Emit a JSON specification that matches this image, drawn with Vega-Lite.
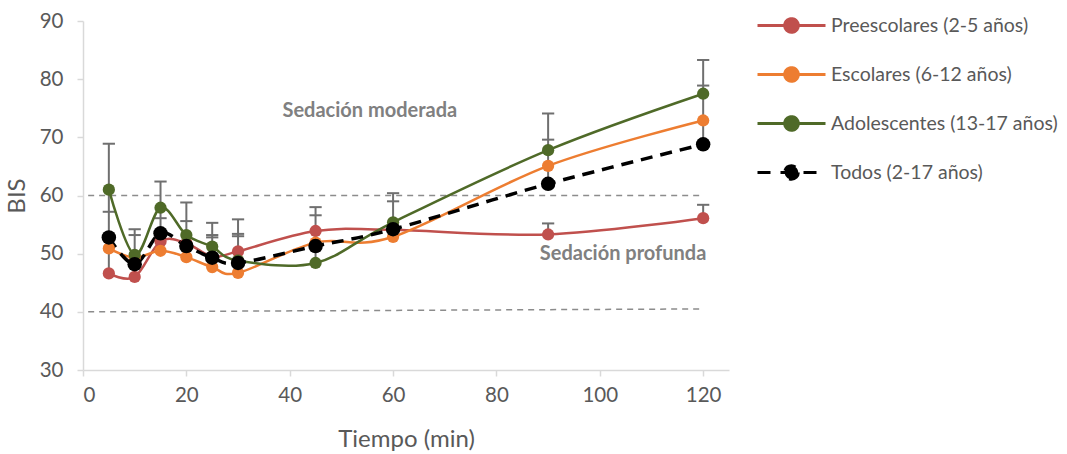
{
  "$schema": "https://vega.github.io/schema/vega-lite/v6.json",
  "width": 646,
  "height": 349,
  "autosize": {"type": "none"},
  "padding": {"left": 83, "top": 21, "right": 338, "bottom": 84},
  "background": "white",
  "config": {
    "view": {"stroke": null},
    "font": "Lato",
    "axis": {"labelFont": "Lato", "titleFont": "Lato", "labelColor": "#595959", "titleColor": "#595959", "labelFontSize": 20.5, "titleFontSize": 24, "titleFontWeight": "normal", "domainColor": "#d9d9d9", "domainWidth": 1.5, "tickColor": "#d9d9d9", "tickWidth": 1.5, "tickSize": 6, "grid": false}
  },
  "datasets": {
    "series": [
      {"grupo": "Preescolares (2-5 años)", "t": 5, "bis": 46.6},
      {"grupo": "Preescolares (2-5 años)", "t": 10, "bis": 46.0},
      {"grupo": "Preescolares (2-5 años)", "t": 15, "bis": 52.1},
      {"grupo": "Preescolares (2-5 años)", "t": 20, "bis": 51.8},
      {"grupo": "Preescolares (2-5 años)", "t": 25, "bis": 49.5},
      {"grupo": "Preescolares (2-5 años)", "t": 30, "bis": 50.4},
      {"grupo": "Preescolares (2-5 años)", "t": 45, "bis": 53.9},
      {"grupo": "Preescolares (2-5 años)", "t": 60, "bis": 54.1},
      {"grupo": "Preescolares (2-5 años)", "t": 90, "bis": 53.3},
      {"grupo": "Preescolares (2-5 años)", "t": 120, "bis": 56.1},
      {"grupo": "Escolares (6-12 años)", "t": 5, "bis": 50.9},
      {"grupo": "Escolares (6-12 años)", "t": 10, "bis": 49.3},
      {"grupo": "Escolares (6-12 años)", "t": 15, "bis": 50.5},
      {"grupo": "Escolares (6-12 años)", "t": 20, "bis": 49.4},
      {"grupo": "Escolares (6-12 años)", "t": 25, "bis": 47.7},
      {"grupo": "Escolares (6-12 años)", "t": 30, "bis": 46.7},
      {"grupo": "Escolares (6-12 años)", "t": 45, "bis": 51.9},
      {"grupo": "Escolares (6-12 años)", "t": 60, "bis": 52.9},
      {"grupo": "Escolares (6-12 años)", "t": 90, "bis": 65.1},
      {"grupo": "Escolares (6-12 años)", "t": 120, "bis": 72.9},
      {"grupo": "Adolescentes (13-17 años)", "t": 5, "bis": 61.0},
      {"grupo": "Adolescentes (13-17 años)", "t": 10, "bis": 49.8},
      {"grupo": "Adolescentes (13-17 años)", "t": 15, "bis": 57.9},
      {"grupo": "Adolescentes (13-17 años)", "t": 20, "bis": 53.2},
      {"grupo": "Adolescentes (13-17 años)", "t": 25, "bis": 51.2},
      {"grupo": "Adolescentes (13-17 años)", "t": 30, "bis": 48.8},
      {"grupo": "Adolescentes (13-17 años)", "t": 45, "bis": 48.4},
      {"grupo": "Adolescentes (13-17 años)", "t": 60, "bis": 55.4},
      {"grupo": "Adolescentes (13-17 años)", "t": 90, "bis": 67.8},
      {"grupo": "Adolescentes (13-17 años)", "t": 120, "bis": 77.5},
      {"grupo": "Todos (2-17 años)", "t": 5, "bis": 52.8},
      {"grupo": "Todos (2-17 años)", "t": 10, "bis": 48.2},
      {"grupo": "Todos (2-17 años)", "t": 15, "bis": 53.5},
      {"grupo": "Todos (2-17 años)", "t": 20, "bis": 51.3},
      {"grupo": "Todos (2-17 años)", "t": 25, "bis": 49.3},
      {"grupo": "Todos (2-17 años)", "t": 30, "bis": 48.4},
      {"grupo": "Todos (2-17 años)", "t": 45, "bis": 51.3},
      {"grupo": "Todos (2-17 años)", "t": 60, "bis": 54.2},
      {"grupo": "Todos (2-17 años)", "t": 90, "bis": 62.0},
      {"grupo": "Todos (2-17 años)", "t": 120, "bis": 68.8}
    ],
    "bars": [
      {"t": 5, "lo": 46.6, "hi": 68.9},
      {"t": 10, "lo": 46.0, "hi": 54.2},
      {"t": 15, "lo": 50.5, "hi": 62.4},
      {"t": 20, "lo": 49.4, "hi": 58.8},
      {"t": 25, "lo": 47.7, "hi": 55.3},
      {"t": 30, "lo": 46.7, "hi": 55.9},
      {"t": 45, "lo": 48.4, "hi": 58.0},
      {"t": 60, "lo": 52.9, "hi": 60.4},
      {"t": 90, "lo": 62.0, "hi": 74.1},
      {"t": 90, "lo": 53.3, "hi": 55.2},
      {"t": 120, "lo": 68.8, "hi": 83.3},
      {"t": 120, "lo": 56.1, "hi": 58.4}
    ],
    "caps": [
      {"t": 5, "v": 68.9}, {"t": 5, "v": 57.2},
      {"t": 10, "v": 54.2}, {"t": 10, "v": 53.2},
      {"t": 15, "v": 62.4}, {"t": 15, "v": 56.1},
      {"t": 20, "v": 58.8}, {"t": 20, "v": 55.6},
      {"t": 25, "v": 55.3}, {"t": 25, "v": 53.2}, {"t": 25, "v": 52.8},
      {"t": 30, "v": 55.9}, {"t": 30, "v": 53.4}, {"t": 30, "v": 53.0},
      {"t": 45, "v": 58.0}, {"t": 45, "v": 56.6},
      {"t": 60, "v": 60.4}, {"t": 60, "v": 59.0},
      {"t": 90, "v": 74.1}, {"t": 90, "v": 69.6}, {"t": 90, "v": 55.2},
      {"t": 120, "v": 83.3}, {"t": 120, "v": 78.9}, {"t": 120, "v": 58.4}
    ],
    "refs": [
      {"ref": "moderada", "t": 1, "v": 60},
      {"ref": "moderada", "t": 120, "v": 60},
      {"ref": "profunda", "t": 1, "v": 40},
      {"ref": "profunda", "t": 120, "v": 40.5}
    ],
    "labels": [
      {"t": 55.5, "v": 74.5, "txt": "Sedación moderada"},
      {"t": 104.5, "v": 50, "txt": "Sedación profunda"}
    ]
  },
  "layer": [
    {
      "data": {"name": "refs"},
      "mark": {"type": "line", "color": "#8c8c8c", "strokeWidth": 1.5, "strokeDash": [6, 5]},
      "encoding": {
        "x": {"field": "t", "type": "quantitative", "scale": {"domain": [0, 125], "nice": false}, "axis": {"values": [0, 20, 40, 60, 80, 100, 120], "title": "Tiempo (min)", "labelPadding": 9, "titlePadding": 22}},
        "y": {"field": "v", "type": "quantitative", "scale": {"domain": [30, 90], "nice": false, "zero": false}, "axis": {"values": [30, 40, 50, 60, 70, 80, 90], "title": "BIS", "labelPadding": 14, "titlePadding": 10}},
        "detail": {"field": "ref"}
      }
    },
    {
      "data": {"name": "bars"},
      "mark": {"type": "rule", "color": "#6f6f6f", "strokeWidth": 2},
      "encoding": {
        "x": {"field": "t", "type": "quantitative"},
        "y": {"field": "lo", "type": "quantitative"},
        "y2": {"field": "hi"}
      }
    },
    {
      "data": {"name": "caps"},
      "mark": {"type": "point", "shape": "stroke", "color": "#6f6f6f", "strokeWidth": 2, "size": 150, "opacity": 1},
      "encoding": {
        "x": {"field": "t", "type": "quantitative"},
        "y": {"field": "v", "type": "quantitative"}
      }
    },
    {
      "data": {"name": "series"},
      "transform": [{"filter": "datum.grupo !== 'Todos (2-17 años)'"}],
      "mark": {"type": "line", "interpolate": "cardinal", "strokeWidth": 2.5},
      "encoding": {
        "x": {"field": "t", "type": "quantitative"},
        "y": {"field": "bis", "type": "quantitative"},
        "color": {
          "field": "grupo", "type": "nominal",
          "scale": {"domain": ["Preescolares (2-5 años)", "Escolares (6-12 años)", "Adolescentes (13-17 años)", "Todos (2-17 años)"], "range": ["#c0504d", "#ed7d31", "#4f6a28", "#000000"]},
          "legend": {
            "orient": "none", "legendX": 690, "legendY": -14, "title": null, "padding": 0,
            "symbolType": "M-2,0H2M0.4,0A0.4,0.4,0,1,1,-0.4,0A0.4,0.4,0,1,1,0.4,0Z",
            "symbolSize": 1156, "symbolStrokeWidth": 3, "labelOffset": 21, "rowPadding": 17,
            "labelFont": "Lato", "labelFontSize": 19.5, "labelColor": "#595959", "labelLimit": 300,
            "encode": {"symbols": {"update": {"fill": {"scale": "color", "field": "value"}, "stroke": {"scale": "color", "field": "value"}, "strokeDash": {"signal": "datum.value === 'Todos (2-17 años)' ? [13, 10] : [1, 0]"}, "opacity": {"value": 1}, "size": {"value": 1156}, "strokeWidth": {"value": 3}}}}
          }
        }
      }
    },
    {
      "data": {"name": "series"},
      "transform": [{"filter": "datum.grupo === 'Todos (2-17 años)'"}],
      "mark": {"type": "line", "interpolate": "cardinal", "strokeWidth": 3.5, "strokeDash": [12, 8]},
      "encoding": {
        "x": {"field": "t", "type": "quantitative"},
        "y": {"field": "bis", "type": "quantitative"},
        "color": {"field": "grupo", "type": "nominal"}
      }
    },
    {
      "data": {"name": "series"},
      "transform": [{"filter": "datum.grupo !== 'Todos (2-17 años)'"}],
      "mark": {"type": "point", "filled": true, "opacity": 1, "size": 150, "shape": "circle"},
      "encoding": {
        "x": {"field": "t", "type": "quantitative"},
        "y": {"field": "bis", "type": "quantitative"},
        "color": {"field": "grupo", "type": "nominal"}
      }
    },
    {
      "data": {"name": "series"},
      "transform": [{"filter": "datum.grupo === 'Todos (2-17 años)'"}],
      "mark": {"type": "point", "filled": true, "opacity": 1, "size": 210, "shape": "circle"},
      "encoding": {
        "x": {"field": "t", "type": "quantitative"},
        "y": {"field": "bis", "type": "quantitative"},
        "color": {"field": "grupo", "type": "nominal"}
      }
    },
    {
      "data": {"name": "labels"},
      "mark": {"type": "text", "font": "Lato", "fontWeight": "bold", "fontSize": 20, "color": "#808080", "align": "center", "baseline": "middle"},
      "encoding": {
        "x": {"field": "t", "type": "quantitative"},
        "y": {"field": "v", "type": "quantitative"},
        "text": {"field": "txt"}
      }
    }
  ]
}
